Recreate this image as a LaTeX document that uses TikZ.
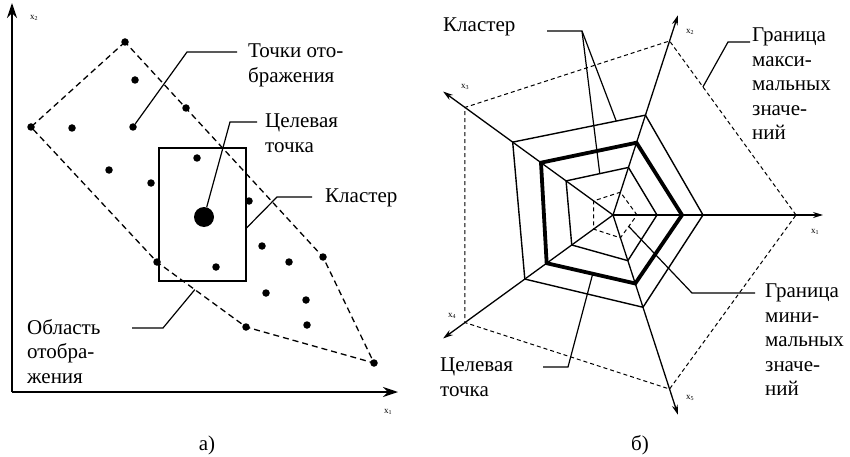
\documentclass[tikz,border=0pt]{standalone}
\usepackage{fontspec}
\setmainfont{Liberation Serif}
\usetikzlibrary{calc,arrows.meta}
\begin{document}
\begin{tikzpicture}[x=1pt,y=-1pt,
  lbl/.style={anchor=north west,inner sep=0pt,align=left,font=\fontsize{21}{24.5}\selectfont},
  captext/.style={anchor=base,inner sep=0pt,font=\fontsize{21}{24.5}\selectfont},
  axlbl/.style={inner sep=0pt,font=\fontsize{9}{10}\selectfont},
  dot/.style={circle,fill=black,inner sep=0pt,minimum size=7.5pt},
  bigdot/.style={circle,fill=black,inner sep=0pt,minimum size=20pt},
  lead/.style={line width=1.2pt},
  axl/.style={line width=1.7pt,-{Stealth[length=15pt,width=10pt]}},
  axr/.style={line width=1.3pt,-{Stealth[length=10pt,width=6pt]}},
  dashl/.style={line width=1.3pt,dash pattern=on 6pt off 4pt},
  dashr/.style={line width=1pt,dash pattern=on 4pt off 3pt},
  pent/.style={line width=1.4pt,line join=miter},
  pentthick/.style={line width=3.8pt,line join=miter},
  clusterbox/.style={draw,line width=2.6pt,inner sep=0pt,outer sep=0pt,minimum width=87pt,minimum height=133pt}
]
\useasboundingbox (0,0) rectangle (850,457);

% ---------------- part a) ----------------
\coordinate (o) at (12,392);
\coordinate (ytop) at (12,3);
\coordinate (xend) at (398,392);
\draw[axl] (o) -- (ytop);
\draw[axl] (o) -- (xend);
\node[axlbl] (lx2) at (34,18) {x\textsubscript{2}};
\node[axlbl] (lx1) at (388,412) {x\textsubscript{1}};

\node[dot] (d1) at (125,42) {};
\node[dot] (d2) at (135,80) {};
\node[dot] (d3) at (186,108) {};
\node[dot] (d4) at (31,127) {};
\node[dot] (d5) at (72,128) {};
\node[dot] (d6) at (133,127) {};
\node[dot] (d7) at (197,158) {};
\node[dot] (d8) at (109,170) {};
\node[dot] (d9) at (151,183) {};
\node[dot] (d10) at (249,201) {};
\node[dot] (d11) at (262,246) {};
\node[dot] (d12) at (289,262) {};
\node[dot] (d13) at (323,257) {};
\node[dot] (d14) at (216,267) {};
\node[dot] (d15) at (157,262) {};
\node[dot] (d16) at (266,293) {};
\node[dot] (d17) at (306,300) {};
\node[dot] (d18) at (307,325) {};
\node[dot] (d19) at (246,327) {};
\node[dot] (d20) at (374,363) {};
\node[bigdot] (big) at (204,217) {};

\draw[dashl] (d1.center) -- (d4.center) -- (d15.center) -- (d19.center) -- (d20.center) -- (d13.center) -- cycle;

\node[clusterbox] (rect) at (202.5,214.5) {};

\node[lbl] (ta1) at (248,44) {Точки ото-\\бражения};
\node[lbl] (ta2) at (265,114) {Целевая\\точка};
\node[lbl] (ta3) at (325,189) {Кластер};
\node[lbl] (ta4) at (27,319) {Область\\отобра-\\жения};
\node[captext] (capa) at (207,450) {а)};

\coordinate (p1) at (237,52); \coordinate (q1) at (187,52);
\draw[lead] (p1) -- (q1) -- (d6);
\coordinate (p2) at (257,122); \coordinate (q2) at (230,122);
\draw[lead] (p2) -- (q2) -- (big);
\coordinate (p3) at (312,197); \coordinate (q3) at (277,197);
\coordinate (r3) at ($(rect.east)+(0,14)$);
\draw[lead] (p3) -- (q3) -- (r3);
\coordinate (p4) at (132,328); \coordinate (q4) at (163,328);
\coordinate (r4) at ($(d15.center)!0.425!(d19.center)$);
\draw[lead] (p4) -- (q4) -- (r4);

% ---------------- part b) ----------------
\coordinate (c) at (613,215);
\foreach \i/\ang/\ro/\rt/\ri in {1/0/90/69/44, 2/-72/105/76/50, 3/-144/124/89/58, 4/144/109/82/51, 5/72/97/72/48}{
  \coordinate (a\i) at ($(c)+(\ang:210)$);
  \coordinate (M\i) at ($(c)+(\ang:183)$);
  \coordinate (o\i) at ($(c)+(\ang:\ro)$);
  \coordinate (t\i) at ($(c)+(\ang:\rt)$);
  \coordinate (i\i) at ($(c)+(\ang:\ri)$);
  \coordinate (m\i) at ($(c)+(\ang:24)$);
}
\draw[dashr] (M1) -- (M2) -- (M3) -- (M4) -- (M5) -- cycle;
\draw[dashr] (m1) -- (m2) -- (m3) -- (m4) -- (m5) -- cycle;
\draw[pent] (o1) -- (o2) -- (o3) -- (o4) -- (o5) -- cycle;
\draw[pent] (i1) -- (i2) -- (i3) -- (i4) -- (i5) -- cycle;
\draw[pentthick] (t1) -- (t2) -- (t3) -- (t4) -- (t5) -- cycle;
\foreach \i in {1,...,5}{\draw[axr] (c) -- (a\i);}

\node[axlbl] (bx1) at (815,232) {x\textsubscript{1}};
\node[axlbl] (bx2) at (690,32) {x\textsubscript{2}};
\node[axlbl] (bx3) at (465,87) {x\textsubscript{3}};
\node[axlbl] (bx4) at (452,316) {x\textsubscript{4}};
\node[axlbl] (bx5) at (690,398) {x\textsubscript{5}};

\node[lbl] (tb1) at (443,18) {Кластер};
\node[lbl] (tb2) at (752,28) {Граница\\макси-\\мальных\\значе-\\ний};
\node[lbl] (tb3) at (765,284) {Граница\\мини-\\мальных\\значе-\\ний};
\node[lbl] (tb4) at (440,358) {Целевая\\точка};
\node[captext] (capb) at (640,450) {б)};

\coordinate (k0) at (547,31); \coordinate (k1) at (582,31);
\coordinate (ko) at ($(o3)!0.78!(o2)$);
\coordinate (ki) at ($(i3)!0.54!(i2)$);
\draw[lead] (k0) -- (k1) -- (ko);
\draw[lead] (k1) -- (ki);
\coordinate (g0) at (750,42); \coordinate (g1) at (728,42);
\coordinate (gm) at ($(M2)!0.264!(M1)$);
\draw[lead] (g0) -- (g1) -- (gm);
\coordinate (h0) at (755,293); \coordinate (h1) at (692,293);
\coordinate (hm) at ($(m1)!0.5!(m5)$);
\draw[lead] (h0) -- (h1) -- (hm);
\coordinate (z0) at (543,367); \coordinate (z1) at (568,367);
\coordinate (zt) at ($(t4)!0.52!(t5)$);
\draw[lead] (z0) -- (z1) -- (zt);
\end{tikzpicture}
\end{document}
